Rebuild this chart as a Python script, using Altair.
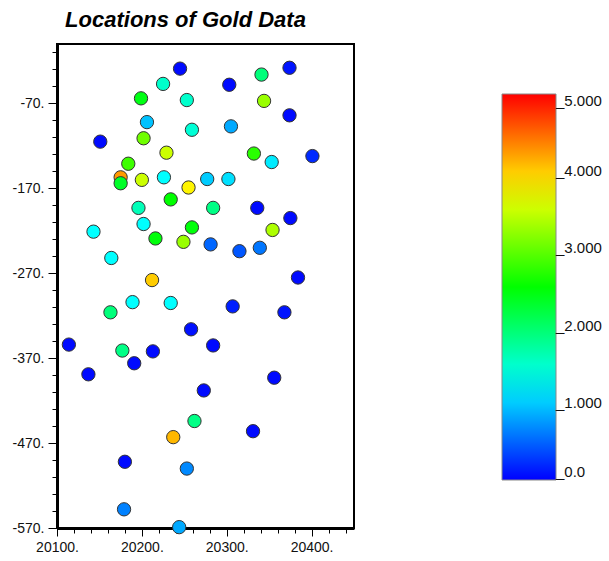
import altair as alt
import pandas as pd

# Sample locations (easting, northing) and gold values
east = [20245, 20225, 20199, 20253, 20206, 20259, 20151, 20202, 20229, 20184,
        20175, 20175, 20200, 20226, 20255, 20234, 20196, 20202, 20143, 20216,
        20259, 20249, 20164, 20212,
        20374, 20341, 20303, 20344, 20374, 20305, 20332, 20353, 20401, 20277,
        20302, 20284, 20336, 20375, 20354, 20281, 20315, 20339, 20384,
        20189, 20234, 20163, 20258, 20114, 20177, 20213, 20191, 20137,
        20262, 20237, 20180, 20253, 20179, 20244,
        20307, 20368, 20284, 20356, 20273, 20331]
north = [-29, -47, -64, -66, -92, -101, -115, -111, -128, -141,
         -157, -164, -160, -157, -169, -183, -193, -212, -221, -229,
         -216, -233, -252, -278,
         -28, -36, -48, -67, -84, -97, -129, -139, -132, -159,
         -159, -193, -193, -205, -219, -236, -244, -240, -275,
         -304, -305, -316, -336, -354, -361, -362, -376, -389,
         -444, -463, -492, -500, -548, -569,
         -309, -316, -355, -393, -408, -456]
gold = [0.05, 1.5, 2.4, 1.5, 0.95, 1.45, 0.05, 3.05, 3.5, 2.8,
        4.25, 2.3, 3.5, 1.25, 3.8, 2.5, 1.6, 1.25, 1.25, 2.45,
        2.45, 3.25, 1.25, 4.0,
        0.1, 1.9, 0.05, 3.25, 0.05, 0.83, 2.7, 1.15, 0.2, 1.0,
        1.1, 1.85, 0.05, 0.05, 3.35, 0.5, 0.42, 0.58, 0.05,
        1.25, 1.25, 1.9, 0.08, 0.05, 1.85, 0.05, 0.05, 0.05,
        1.85, 4.1, 0.05, 0.67, 0.63, 0.83,
        0.15, 0.1, 0.05, 0.05, 0.05, 0.05]

color_stops = ["#0000ff", "#00ffff", "#00ff00", "#ffff00", "#ff0000"]
legend_values = [0, 1, 2, 3, 4, 5]
x_ticks = list(range(20100, 20441, 20))
y_ticks = list(range(-570, -9, 20))

df = pd.DataFrame({"east": east, "north": north, "gold": gold})

FONT = "Liberation Sans"

chart = alt.Chart(df).mark_circle(
    size=177, opacity=1, stroke="#333333", strokeWidth=1, strokeOpacity=1
).encode(
    x=alt.X("east:Q",
            scale=alt.Scale(domain=[20100, 20450], nice=False, zero=False),
            axis=alt.Axis(values=x_ticks, title=None, grid=False,
                          labelExpr="datum.value % 100 == 0 ? datum.value + '.' : ''",
                          tickSize={"condition": {"test": "datum.value % 100 == 0", "value": 8}, "value": 5},
                          labelPadding=4, labelFlush=False, labelOverlap=False)),
    y=alt.Y("north:Q",
            scale=alt.Scale(domain=[-570, 0], nice=False, zero=False),
            axis=alt.Axis(values=y_ticks, title=None, grid=False,
                          labelExpr="(datum.value + 70) % 100 == 0 ? datum.value + '.' : ''",
                          tickSize={"condition": {"test": "(datum.value + 70) % 100 == 0", "value": 9}, "value": 5},
                          labelPadding=4, labelFlush=False, labelOverlap=False)),
    color=alt.Color("gold:Q",
                    scale=alt.Scale(domain=[0, 5], range=color_stops, interpolate="rgb"),
                    legend=alt.Legend(orient="none", legendX=445, legendY=50,
                                      direction="vertical", title=None,
                                      gradientLength=386, gradientThickness=54,
                                      gradientStrokeColor="#888888", gradientStrokeWidth=1,
                                      values=legend_values,
                                      labelExpr="datum.value == 0 ? '_0.0' : '_' + format(datum.value, '.3f')",
                                      labelFont=FONT, labelFontSize=15, labelColor="#111111",
                                      labelBaseline="alphabetic", labelOffset=0,
                                      labelOverlap=False, padding=0)),
).properties(
    width=297, height=484,
    autosize=alt.AutoSizeParams(type="none"),
    padding={"left": 57, "top": 44, "right": 255, "bottom": 33},
    title=alt.TitleParams("Locations of Gold Data", font=FONT, fontSize=22,
                          fontStyle="italic", fontWeight="bold", color="black",
                          anchor="middle", dx=-20, offset=12),
).configure_view(
    stroke="black", strokeWidth=2
).configure_axis(
    domainColor="black", domainWidth=3, tickColor="black", tickWidth=1,
    labelFont=FONT, labelFontSize=14, labelColor="#111111"
)

chart.save("out.html", embed_options={"renderer": "svg", "actions": False})
